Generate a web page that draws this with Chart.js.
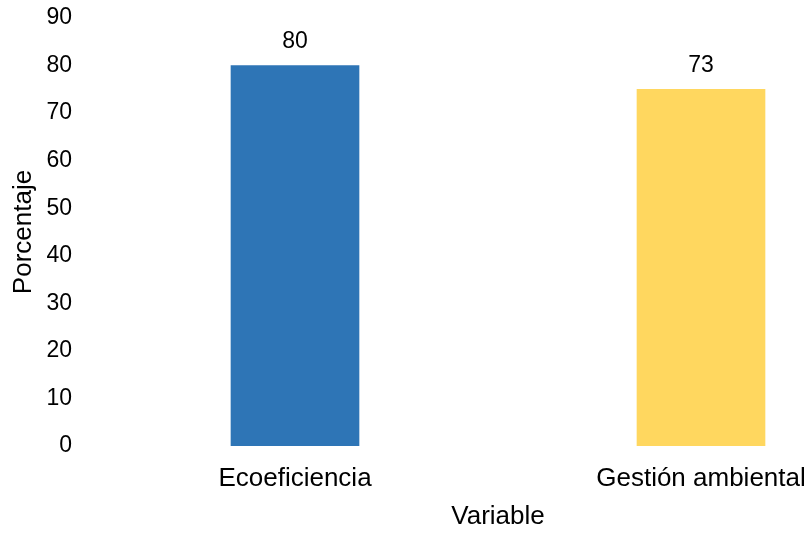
<!DOCTYPE html>
<html>
<head>
<meta charset="utf-8">
<script src="https://cdn.jsdelivr.net/npm/chart.js@4"></script>
<style>
  html, body { margin: 0; padding: 0; background: #fff; overflow: hidden; }
  #wrap { width: 812px; height: 533px; overflow: hidden; }
</style>
</head>
<body>
<div id="wrap"><canvas id="chart" width="904" height="533"></canvas></div>
<script>
// data
let categories = ["Ecoeficiencia", "Gestión ambiental"];
let barValues = [80, 75];
let barLabels = ["80", "73"];
let barColors = ["#2E75B6", "#FFD75F"];
let yTicks = [0, 10, 20, 30, 40, 50, 60, 70, 80, 90];

let fontFamily = "'Liberation Sans', Arial, sans-serif";

// write the label text above each bar
let valueLabels = {
	id: "valueLabels",
	afterDatasetsDraw: function(chart) {
		let ctx = chart.ctx;
		let meta = chart.getDatasetMeta(0);
		ctx.save();
		ctx.font = "23px " + fontFamily;
		ctx.fillStyle = "#000";
		ctx.textAlign = "center";
		ctx.textBaseline = "middle";
		meta.data.forEach(function(bar, i) {
			ctx.fillText(barLabels[i], bar.x, bar.y - 24);
		});
		ctx.restore();
	}
};

// the original plot runs past the right edge of the picture,
// so the canvas is wider than the window and the rest is cut off
new Chart(document.getElementById("chart"), {
	type: "bar",
	data: {
		labels: categories,
		datasets: [{
			data: barValues,
			backgroundColor: barColors,
			barThickness: 128
		}]
	},
	options: {
		responsive: false,
		animation: false,
		layout: {
			padding: { left: 0, right: 0, top: 18, bottom: 0 }
		},
		plugins: {
			legend: { display: false },
			tooltip: { enabled: false }
		},
		scales: {
			x: {
				grid: { display: false, drawTicks: false },
				border: { display: false },
				afterFit: function(scale) { scale.height = 87; },
				ticks: {
					color: "#000",
					font: { family: fontFamily, size: 26 },
					padding: 17,
					maxRotation: 0,
					autoSkip: false
				},
				title: {
					display: true,
					text: "Variable",
					color: "#000",
					font: { family: fontFamily, size: 26 },
					padding: { top: 8, bottom: 1 }
				}
			},
			y: {
				min: 0,
				max: 90,
				grid: { display: false, drawTicks: false },
				border: { display: false },
				afterFit: function(scale) {
					scale.width = 92;
					scale.paddingTop = 0;
					scale.paddingBottom = 0;
				},
				afterBuildTicks: function(scale) {
					scale.ticks = yTicks.map(function(v) { return { value: v }; });
				},
				ticks: {
					color: "#000",
					font: { family: fontFamily, size: 23 },
					padding: 20
				},
				title: {
					display: true,
					text: "Porcentaje",
					color: "#000",
					font: { family: fontFamily, size: 26 },
					padding: { top: 8, bottom: 4 }
				}
			}
		}
	},
	plugins: [valueLabels]
});
</script>
</body>
</html>
